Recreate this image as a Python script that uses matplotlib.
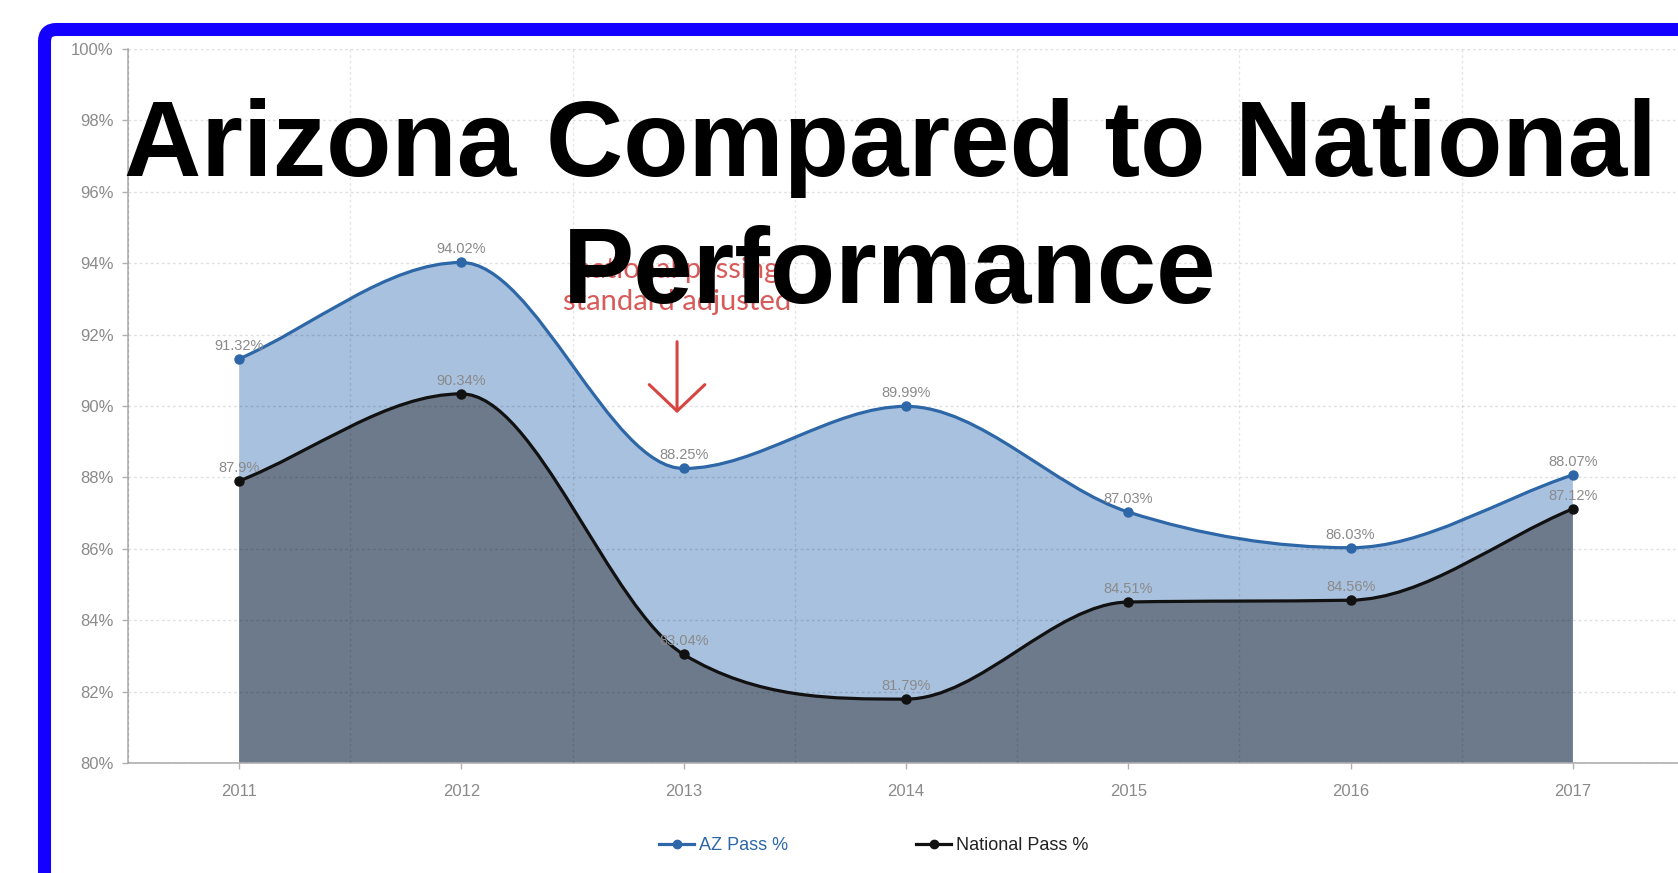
import numpy as np
import matplotlib
matplotlib.use("Agg")
import matplotlib.pyplot as plt
from matplotlib.path import Path
from matplotlib.patches import PathPatch, FancyBboxPatch
from matplotlib.lines import Line2D

plt.rcParams['font.family'] = ['Liberation Sans', 'DejaVu Sans']

years = ['2011', '2012', '2013', '2014', '2015', '2016', '2017']
az_pass = [91.32, 94.02, 88.25, 89.99, 87.03, 86.03, 88.07]
national_pass = [87.9, 90.34, 83.04, 81.79, 84.51, 84.56, 87.12]
az_labels = ['91.32%', '94.02%', '88.25%', '89.99%', '87.03%', '86.03%', '88.07%']
national_labels = ['87.9%', '90.34%', '83.04%', '81.79%', '84.51%', '84.56%', '87.12%']
y_ticks = [80, 82, 84, 86, 88, 90, 92, 94, 96, 98, 100]

AZ_LINE = '#2d67a7'
AZ_FILL = '#a8c1de'
NAT_LINE = '#111111'
NAT_FILL = '#6c7a8b'
GRAY = '#8a8a8a'
RED = '#d64541'


def monotone_path(x, y, base=None):
    # bezier control points like chart.js "monotone" cubic interpolation
    x = np.asarray(x, float)
    y = np.asarray(y, float)
    n = len(x)
    dx = np.diff(x)
    delta = np.diff(y) / dx
    m = np.zeros(n)
    m[0] = delta[0]
    m[-1] = delta[-1]
    for k in range(1, n - 1):
        if np.sign(delta[k - 1]) != np.sign(delta[k]):
            m[k] = 0
        else:
            m[k] = (delta[k - 1] + delta[k]) / 2
    for k in range(n - 1):
        if abs(delta[k]) < 1e-12:
            m[k] = m[k + 1] = 0
            continue
        a = m[k] / delta[k]
        b = m[k + 1] / delta[k]
        s = a * a + b * b
        if s > 9:
            t = 3 / np.sqrt(s)
            m[k] = t * a * delta[k]
            m[k + 1] = t * b * delta[k]
    verts = [(x[0], y[0])]
    codes = [Path.MOVETO]
    for k in range(n - 1):
        d = dx[k] / 3
        verts += [(x[k] + d, y[k] + m[k] * d),
                  (x[k + 1] - d, y[k + 1] - m[k + 1] * d),
                  (x[k + 1], y[k + 1])]
        codes += [Path.CURVE4] * 3
    if base is not None:
        verts += [(x[-1], base), (x[0], base), (x[0], y[0])]
        codes += [Path.LINETO, Path.LINETO, Path.CLOSEPOLY]
    return Path(verts, codes)


fig = plt.figure(figsize=(16.78, 8.73), dpi=100)
ax = fig.add_axes([128 / 1678, 1 - 763 / 873, 1556 / 1678, 714 / 873])

xs = np.arange(len(years))

ax.add_patch(PathPatch(monotone_path(xs, az_pass, base=80), facecolor=AZ_FILL,
                       edgecolor='none', zorder=1))
ax.add_patch(PathPatch(monotone_path(xs, national_pass, base=80), facecolor=NAT_FILL,
                       edgecolor='none', zorder=1.5))
ax.add_patch(PathPatch(monotone_path(xs, az_pass), facecolor='none',
                       edgecolor=AZ_LINE, lw=2.3, zorder=3))
ax.add_patch(PathPatch(monotone_path(xs, national_pass), facecolor='none',
                       edgecolor=NAT_LINE, lw=2.3, zorder=3))
ax.plot(xs, az_pass, 'o', color=AZ_LINE, ms=6.5, zorder=4)
ax.plot(xs, national_pass, 'o', color=NAT_LINE, ms=6.5, zorder=4)

for i in range(len(years)):
    ax.annotate(az_labels[i], (xs[i], az_pass[i]), xytext=(0, 6.5),
                textcoords='offset points', ha='center', va='baseline',
                fontsize=10.5, color=GRAY, zorder=5)
    ax.annotate(national_labels[i], (xs[i], national_pass[i]), xytext=(0, 6.5),
                textcoords='offset points', ha='center', va='baseline',
                fontsize=10.5, color=GRAY, zorder=5)

ax.set_xlim(-0.5, 6.5)
ax.set_ylim(80, 100)
ax.set_xticks(xs)
ax.set_xticklabels(years)
ax.set_xticks(np.arange(-0.5, 7, 1), minor=True)
ax.set_yticks(y_ticks)
ax.set_yticklabels([f'{v}%' for v in y_ticks])
ax.tick_params(axis='both', which='major', colors='#b0b0b0', labelcolor=GRAY,
               labelsize=12, length=4.5, width=1)
ax.tick_params(axis='x', which='major', pad=10.5)
ax.tick_params(axis='y', which='major', pad=6)
ax.tick_params(axis='x', which='minor', length=0)

ax.set_axisbelow(False)
ax.grid(True, axis='y', which='major', color='black', alpha=0.12,
        linestyle=(0, (2, 2)), lw=1)
ax.grid(True, axis='x', which='minor', color='black', alpha=0.10,
        linestyle=(0, (2, 2)), lw=1)
for side in ['top', 'right']:
    ax.spines[side].set_visible(False)
for side in ['left', 'bottom']:
    ax.spines[side].set_color('#b0b0b0')
    ax.spines[side].set_linewidth(1.2)

# red note about the 2013 standard change
ax.text(1.97, 100 - (278 - 49) / 35.7, 'national passing', ha='center',
        va='baseline', fontsize=21, color='#d85a5a', family='Lato', zorder=6)
ax.text(1.97, 100 - (310 - 49) / 35.7, 'standard adjusted', ha='center',
        va='baseline', fontsize=21, color='#d85a5a', family='Lato', zorder=6)
ax.annotate('', xy=(1.97, 89.8), xytext=(1.97, 91.8),
            arrowprops=dict(arrowstyle='->,head_length=0.95,head_width=1.0',
                            mutation_scale=20, lw=2.2, color=RED,
                            shrinkA=0, shrinkB=0), zorder=6)

# title
fig.text(890 / 1678, 1 - 176 / 873, 'Arizona Compared to National',
         ha='center', va='baseline', fontsize=77, fontweight='bold',
         color='black', zorder=10)
fig.text(890 / 1678, 1 - 303 / 873, 'Performance',
         ha='center', va='baseline', fontsize=77, fontweight='bold',
         color='black', zorder=10)

# legend
handles = [Line2D([], [], color=AZ_LINE, lw=2.3, marker='o', ms=6),
           Line2D([], [], color=NAT_LINE, lw=2.3, marker='o', ms=6)]
leg = fig.legend(handles, ['AZ Pass %', 'National Pass %'], loc='center',
                 bbox_to_anchor=(874 / 1678, 1 - 846 / 873), ncol=2,
                 frameon=False, fontsize=13, handlelength=1.9,
                 handletextpad=0.3, columnspacing=7.1)
leg.get_texts()[0].set_color(AZ_LINE)
leg.get_texts()[1].set_color('#222222')

# blue frame
fig.patches.append(FancyBboxPatch((0.445, -1.0), 20, 9.435, boxstyle='round,pad=0,rounding_size=0.12',
                                  transform=fig.dpi_scale_trans, facecolor='none',
                                  edgecolor='#1400ff', lw=9.4, figure=fig, zorder=20))

fig.savefig('out.png', dpi=100)
